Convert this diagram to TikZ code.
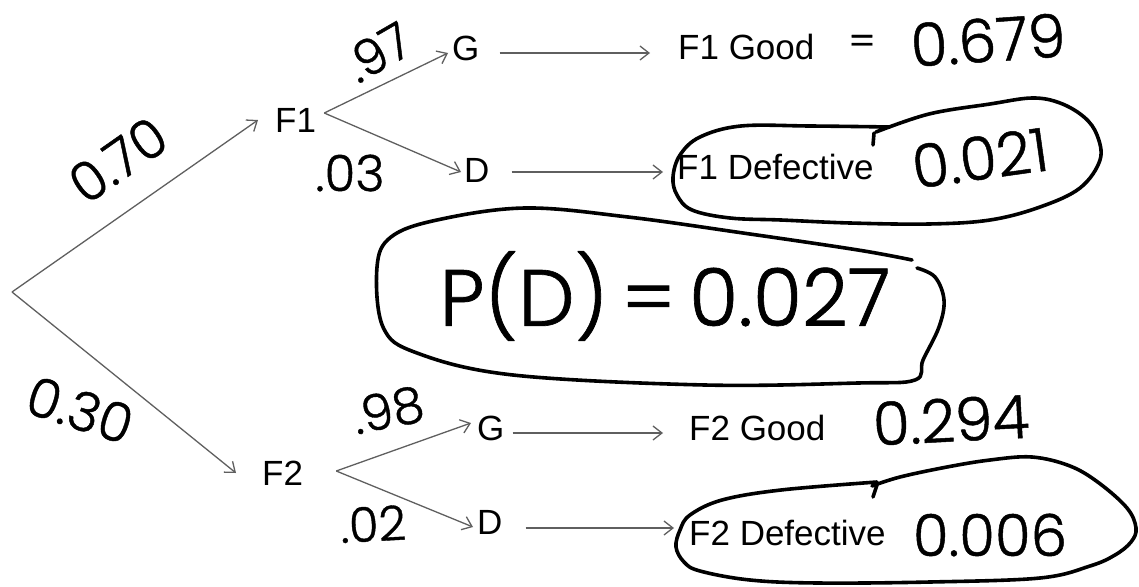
\documentclass[tikz,border=0pt]{standalone}
\usepackage{fontspec}
\setmainfont{Liberation Sans}
\IfFontExistsTF{Poppins Light}
  {\newfontfamily\handfont{Poppins Light}[FakeBold=0.8]}
  {\newfontfamily\handfont{Poppins}}
\usetikzlibrary{arrows.meta}
\definecolor{treegray}{RGB}{95,95,95}
\begin{document}
\begin{tikzpicture}[x=1pt,y=-1pt,
  tree/.style={draw=treegray, line width=1.3pt},
  arr/.style={tree, -{Straight Barb[length=9pt,width=14pt,line width=1.3pt]}},
  lbl/.style={font=\fontsize{35}{40}\selectfont, inner sep=0pt, anchor=west, text=black},
  hand/.style={font=\handfont\fontsize{#1}{#1}\selectfont, inner sep=0pt, text=black},
  ink/.style={draw=black, line width=3.6pt, line cap=round, line join=round}
]
\useasboundingbox (0,0) rectangle (1139,586);

% ---------- printed tree ----------
\coordinate (root) at (12,292);
\node[lbl] (F1) at (275,120) {F1};
\node[lbl] (G1) at (452,48) {G};
\node[lbl] (D1) at (464,170) {D};
\node[lbl] (F1G) at (678,47) {F1 Good};
\node[lbl] (F1D) at (677,167) {F1 Defective};
\node[lbl] (F2) at (262,473) {F2};
\node[lbl] (G2) at (477,428) {G};
\node[lbl] (D2) at (477,522) {D};
\node[lbl] (F2G) at (689,428) {F2 Good};
\node[lbl] (F2D) at (689,533) {F2 Defective};

% branching points just right of F1 and F2
\coordinate (v1) at ([shift={(8,-7)}]F1.east);
\coordinate (v2) at ([shift={(33,-2)}]F2.east);

\draw[arr] (root) -- ([shift={(-17,0)}]F1.west);
\draw[arr] (root) -- ([shift={(-26,0)}]F2.west);
\draw[arr] (v1) -- ([shift={(-4,5)}]G1.west);
\draw[arr] (v1) -- ([shift={(-3,2)}]D1.west);
\draw[arr] (v2) -- ([shift={(-6,-5)}]G2.west);
\draw[arr] (v2) -- ([shift={(-4,5)}]D2.west);
\draw[arr] ([shift={(20,5)}]G1.east) -- ([shift={(-28,6)}]F1G.west);
\draw[arr] ([shift={(22,2)}]D1.east) -- ([shift={(-14,5)}]F1D.west);
\draw[arr] ([shift={(8,5)}]G2.east) -- ([shift={(-26,5)}]F2G.west);
\draw[arr] ([shift={(23,6)}]D2.east) -- ([shift={(-15,-5)}]F2D.west);

% ---------- handwritten notes ----------
\node[hand=54, rotate=35] (p70) at (118,160) {0.70};
\node[hand=50, rotate=30] (p97) at (378,52) {.97};
\node[hand=50] (p03) at (350,173) {.03};
\node[hand=54, rotate=-18] (p30) at (80,410) {0.30};
\node[hand=50, rotate=12] (p98) at (388,410) {.98};
\node[hand=48, rotate=3] (p02) at (373,524) {.02};
\node[hand=40] (eq) at (862,45) {=};
\node[hand=60, rotate=4] (r1) at (988,40) {0.679};
\node[hand=60, rotate=8] (r2) at (980,158) {0.021};
\node[hand=60, rotate=3] (r3) at (951,420) {0.294};
\node[hand=58] (r4) at (990,535) {0.006};
\node[hand=80] (pd) at (665,296) {P(D)\,=\,0.027};

% loop round F1 Defective
\draw[ink] plot[smooth, tension=0.6] coordinates {
  (890,127) (810,126) (741,126) (700,137) (680,155) (673,177) (677,195)
  (692,210) (730,218) (781,220) (850,223) (929,224) (990,220) (1040,207)
  (1080,188) (1100,160) (1097,135) (1084,117) (1060,103) (1032,98)
  (990,104) (929,114) (876,132)};
\draw[ink] (874,133) -- (873,145);

% loop round P(D)
\draw[ink] plot[smooth, tension=0.6] coordinates {
  (912,260) (858,250) (743,233) (628,217) (525,208) (437,220) (391,237)
  (377,267) (383,327) (417,353) (513,375) (705,385) (858,383) (915,380)
  (923,360) (939,327) (944,300) (935,277) (917,268)};

% loop round F2 Defective
\draw[ink] plot[smooth, tension=0.6] coordinates {
  (877,482) (781,490) (722,500) (690,515) (680,530) (676,547) (684,562)
  (700,571) (750,580) (818,583) (930,582) (1040,578) (1090,566) (1115,555)
  (1131,542) (1136,528) (1127,508) (1099,483) (1070,466) (1032,457)
  (990,460) (947,467) (900,477) (872,486)};
\draw[ink] (877,485) -- (873,497);
\end{tikzpicture}
\end{document}
